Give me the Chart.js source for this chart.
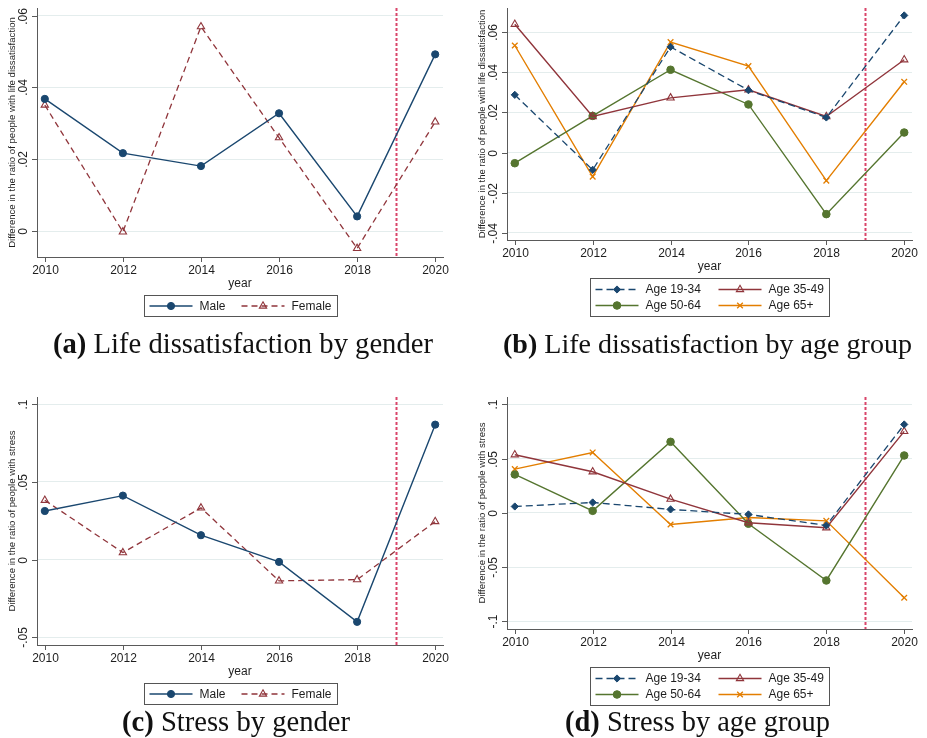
<!DOCTYPE html>
<html><head><meta charset="utf-8">
<script src="https://cdn.jsdelivr.net/npm/chart.js@4.4.1/dist/chart.umd.min.js"></script>
<style>
html,body{margin:0;padding:0;background:#fff}
body{width:927px;height:738px;position:relative;overflow:hidden}
canvas{position:absolute}
.cap{position:absolute;font-family:"Liberation Serif","Times New Roman",serif;white-space:nowrap;color:#111;line-height:1}
</style></head>
<body>
<canvas id="ca" width="463" height="330" style="left:0;top:0"></canvas>
<canvas id="cb" width="464" height="330" style="left:463px;top:0"></canvas>
<canvas id="cc" width="463" height="320" style="left:0;top:388px"></canvas>
<canvas id="cd" width="464" height="320" style="left:463px;top:388px"></canvas>
<div class="cap" id="capA"><b>(a)</b> Life dissatisfaction by gender</div>
<div class="cap" id="capB"><b>(b)</b> Life dissatisfaction by age group</div>
<div class="cap" id="capC"><b>(c)</b> Stress by gender</div>
<div class="cap" id="capD"><b>(d)</b> Stress by age group</div>
<script>
// ---------------- data ----------------
const years = [2010, 2012, 2014, 2016, 2018, 2020];
const xTickYears = [2010, 2012, 2014, 2016, 2018, 2020];
const policyYear = 2019;

// (a) life dissatisfaction by gender
const lifeMale   = [0.0368, 0.0217, 0.0181, 0.0328, 0.0041, 0.0492];
const lifeFemale = [0.0351, -0.0002, 0.0569, 0.0260, -0.0048, 0.0304];
const lifeGenderTicks = [0, 0.02, 0.04, 0.06];

// (b) life dissatisfaction by age group
const lifeAge1934 = [0.0288, -0.0086, 0.0527, 0.0311, 0.0175, 0.0684];
const lifeAge3549 = [0.0640, 0.0180, 0.0273, 0.0313, 0.0180, 0.0463];
const lifeAge5064 = [-0.0053, 0.0183, 0.0413, 0.0240, -0.0307, 0.0100];
const lifeAge65   = [0.0534, -0.0120, 0.0551, 0.0431, -0.0140, 0.0353];
const lifeAgeTicks = [-0.04, -0.02, 0, 0.02, 0.04, 0.06];

// (c) stress by gender
const stressMale   = [0.0313, 0.0412, 0.0157, -0.0015, -0.0401, 0.0869];
const stressFemale = [0.0382, 0.0045, 0.0333, -0.0137, -0.0129, 0.0245];
const stressGenderTicks = [-0.05, 0, 0.05, 0.1];

// (d) stress by age group
const stressAge1934 = [0.0058, 0.0095, 0.0031, -0.0015, -0.0117, 0.0814];
const stressAge3549 = [0.0535, 0.0378, 0.0126, -0.0092, -0.0138, 0.0750];
const stressAge5064 = [0.0353, 0.0018, 0.0654, -0.0101, -0.0624, 0.0528];
const stressAge65   = [0.0402, 0.0556, -0.0108, -0.0043, -0.0074, -0.0783];
const stressAgeTicks = [-0.1, -0.05, 0, 0.05, 0.1];

const genderLabels = ['Male', 'Female'];
const ageLabels = ['Age 19-34', 'Age 35-49', 'Age 50-64', 'Age 65+'];
const lifeTitle = 'Difference in the ratio of people with life dissatisfaction';
const stressTitle = 'Difference in the ratio of people with stress';

// ---------------- styles ----------------
const NAVY = '#1a476f', MAROON = '#90353b', GREEN = '#55752f', ORANGE = '#e37e00';
const AXIS = '#5a5a5a', GRID = '#e4eded', TEXT = '#1e1e1e', REF = '#d9456a';
const SANS = '"Liberation Sans", Arial, sans-serif';

function pts(arr){ return years.map((yr,i)=>({x:yr, y:arr[i]})); }

function styleMale(label, data){ return {label, data:pts(data), borderColor:NAVY, backgroundColor:NAVY, borderWidth:1.4,
  pointStyle:'circle', pointRadius:3.6, pointBackgroundColor:NAVY, pointBorderColor:NAVY, pointBorderWidth:1}; }
function styleFemale(label, data){ return {label, data:pts(data), borderColor:MAROON, backgroundColor:MAROON, borderWidth:1.3, borderDash:[6,4],
  pointStyle:'triangle', pointRadius:4.2, pointBackgroundColor:'rgba(0,0,0,0)', pointBorderColor:MAROON, pointBorderWidth:1.1}; }
function styleA1(label, data){ return {label, data:pts(data), borderColor:NAVY, backgroundColor:NAVY, borderWidth:1.3, borderDash:[7,4],
  pointStyle:'rectRot', pointRadius:3.6, pointBackgroundColor:NAVY, pointBorderColor:NAVY, pointBorderWidth:1}; }
function styleA2(label, data){ return {label, data:pts(data), borderColor:MAROON, backgroundColor:MAROON, borderWidth:1.4,
  pointStyle:'triangle', pointRadius:4.2, pointBackgroundColor:'rgba(0,0,0,0)', pointBorderColor:MAROON, pointBorderWidth:1.1}; }
function styleA3(label, data){ return {label, data:pts(data), borderColor:GREEN, backgroundColor:GREEN, borderWidth:1.4,
  pointStyle:'circle', pointRadius:3.8, pointBackgroundColor:GREEN, pointBorderColor:GREEN, pointBorderWidth:1}; }
function styleA4(label, data){ return {label, data:pts(data), borderColor:ORANGE, backgroundColor:ORANGE, borderWidth:1.4,
  pointStyle:'crossRot', pointRadius:4, pointBackgroundColor:ORANGE, pointBorderColor:ORANGE, pointBorderWidth:1.3}; }

function fmt(v){
  if (Math.abs(v) < 1e-9) return '0';
  return String(+v.toFixed(3)).replace('0.', '.');
}

function drawMarker(ctx, ds, x, y){
  ctx.save();
  ctx.setLineDash([]);
  ctx.fillStyle = ds.pointBackgroundColor;
  ctx.strokeStyle = ds.pointBorderColor;
  ctx.lineWidth = ds.pointBorderWidth;
  Chart.helpers.drawPoint(ctx, {pointStyle: ds.pointStyle, radius: ds.pointRadius, rotation: 0, borderWidth: ds.pointBorderWidth}, x, y);
  ctx.restore();
}

const stataPlugin = {
  id: 'stata',
  beforeDatasetsDraw(chart){
    const {ctx, chartArea:a, scales:{x}} = chart;
    const px = Math.round(x.getPixelForValue(policyYear)) + 0.5;
    ctx.save();
    ctx.strokeStyle = REF; ctx.lineWidth = 2; ctx.setLineDash([3,2]);
    ctx.beginPath(); ctx.moveTo(px, a.top); ctx.lineTo(px, a.bottom); ctx.stroke();
    ctx.restore();
  },
  afterDraw(chart){
    const o = chart.options.plugins.stata;
    const {ctx, chartArea:a, scales:{x, y}} = chart;
    ctx.save();
    ctx.strokeStyle = AXIS; ctx.lineWidth = 1; ctx.fillStyle = TEXT;
    ctx.textAlign = 'center'; ctx.textBaseline = 'middle';
    ctx.font = '12px ' + SANS;
    // y ticks & labels
    y.ticks.forEach(t => {
      const py = Math.round(y.getPixelForValue(t.value)) + 0.5;
      ctx.beginPath(); ctx.moveTo(a.left - 5, py); ctx.lineTo(a.left, py); ctx.stroke();
      ctx.save(); ctx.translate(a.left - 13, py); ctx.rotate(-Math.PI/2);
      ctx.fillText(fmt(t.value), 0, 0); ctx.restore();
    });
    // x ticks & labels
    x.ticks.forEach(t => {
      const px = Math.round(x.getPixelForValue(t.value)) + 0.5;
      ctx.beginPath(); ctx.moveTo(px, a.bottom); ctx.lineTo(px, a.bottom + 5); ctx.stroke();
      ctx.fillText(String(t.value), px, a.bottom + 13.5);
    });
    // axis titles
    ctx.fillText('year', (a.left + a.right)/2, a.bottom + 26.5);
    ctx.save();
    ctx.font = o.yTitleSize + 'px ' + SANS;
    ctx.translate(a.left - 24.5, (a.top + a.bottom)/2); ctx.rotate(-Math.PI/2);
    ctx.fillText(o.yTitle, 0, 0);
    ctx.restore();
    // legend
    const L = o.legend;
    const bx = Math.round((a.left + a.right)/2 - L.w/2) + 0.5;
    const by = Math.round(a.bottom + 38) + 0.5;
    ctx.strokeStyle = '#555'; ctx.lineWidth = 1; ctx.setLineDash([]);
    ctx.strokeRect(bx, by, L.w, L.h);
    ctx.textAlign = 'left';
    ctx.font = '12px ' + SANS;
    chart.data.datasets.forEach((ds, i) => {
      const r = Math.floor(i / L.cols), c = i % L.cols;
      const sx = bx + 5 + c * L.colW, sy = by + L.rowY[r];
      ctx.save();
      ctx.strokeStyle = ds.borderColor; ctx.lineWidth = ds.borderWidth;
      ctx.setLineDash(ds.borderDash || []);
      ctx.beginPath(); ctx.moveTo(sx, sy); ctx.lineTo(sx + 43, sy); ctx.stroke();
      ctx.restore();
      drawMarker(ctx, ds, sx + 21.5, sy);
      ctx.fillStyle = TEXT;
      ctx.fillText(ds.label, sx + 50, sy + 0.5);
    });
    ctx.restore();
  }
};

function makeChart(id, area, datasets, yMin, yMax, yTicks, yTitle, yTitleSize, legend){
  const cv = document.getElementById(id);
  const W = cv.width, H = cv.height;
  return new Chart(cv, {
    type: 'line',
    data: { datasets },
    options: {
      responsive: false, animation: false, devicePixelRatio: 1,
      layout: { padding: { left: area.l, top: area.t, right: W - area.r, bottom: H - area.b } },
      plugins: { legend: {display:false}, tooltip: {enabled:false}, title: {display:false},
                 stata: { yTitle, yTitleSize, legend } },
      elements: { line: { tension: 0 } },
      scales: {
        x: { type:'linear', min:2009.8, max:2020.2,
             afterBuildTicks: s => { s.ticks = xTickYears.map(v => ({value:v})); },
             afterFit: s => { s.height = 0; },
             ticks: { display:false },
             grid: { display:false },
             border: { display:true, color:AXIS, width:1 } },
        y: { type:'linear', min:yMin, max:yMax,
             afterBuildTicks: s => { s.ticks = yTicks.map(v => ({value:v})); },
             afterFit: s => { s.width = 0; },
             ticks: { display:false },
             grid: { display:true, color:GRID, lineWidth:1, drawTicks:false },
             border: { display:true, color:AXIS, width:1 } }
      }
    },
    plugins: [stataPlugin]
  });
}

const legendGender = { w:193, h:21, cols:2, colW:92, rowY:[10.5] };
const legendAge = { w:239, h:38, cols:2, colW:123, rowY:[11, 27] };

makeChart('ca', {l:37, t:8, r:443, b:257},
  [styleMale(genderLabels[0], lifeMale), styleFemale(genderLabels[1], lifeFemale)],
  -0.0072, 0.0621, lifeGenderTicks, lifeTitle, 9.6, legendGender);

makeChart('cb', {l:44, t:8, r:449, b:240},
  [styleA1(ageLabels[0], lifeAge1934), styleA2(ageLabels[1], lifeAge3549),
   styleA3(ageLabels[2], lifeAge5064), styleA4(ageLabels[3], lifeAge65)],
  -0.0436, 0.0721, lifeAgeTicks, lifeTitle, 9.5, legendAge);

makeChart('cc', {l:37, t:9, r:443, b:257},
  [styleMale(genderLabels[0], stressMale), styleFemale(genderLabels[1], stressFemale)],
  -0.055, 0.1047, stressGenderTicks, stressTitle, 9.6, legendGender);

makeChart('cd', {l:44, t:9, r:449, b:241},
  [styleA1(ageLabels[0], stressAge1934), styleA2(ageLabels[1], stressAge3549),
   styleA3(ageLabels[2], stressAge5064), styleA4(ageLabels[3], stressAge65)],
  -0.1071, 0.1067, stressAgeTicks, stressTitle, 9.6, legendAge);

// captions: fit to width, centred, on a baseline
function placeCaption(id, cx, baseline, width){
  const el = document.getElementById(id);
  let fs = 24;
  el.style.fontSize = fs + 'px';
  const w0 = el.getBoundingClientRect().width;
  fs = fs * width / w0;
  el.style.fontSize = fs.toFixed(2) + 'px';
  const w = el.getBoundingClientRect().width;
  el.style.left = (cx - w/2) + 'px';
  el.style.top = (baseline - 0.8375 * fs) + 'px';
}
placeCaption('capA', 243, 353, 380);
placeCaption('capB', 707.5, 353, 409);
placeCaption('capC', 236, 731.5, 228);
placeCaption('capD', 697.5, 731.5, 265);
</script>
</body></html>
